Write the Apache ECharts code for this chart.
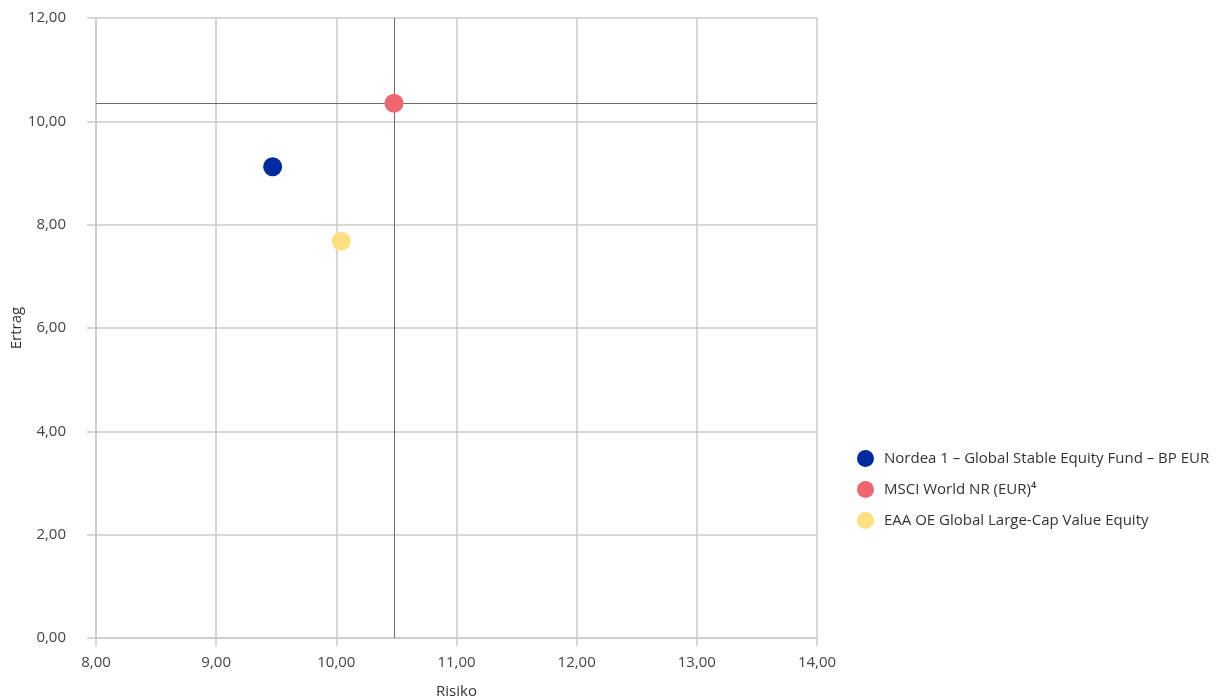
<!DOCTYPE html>
<html>
<head>
<meta charset="utf-8">
<script src="https://cdn.jsdelivr.net/npm/echarts@6/dist/echarts.min.js"></script>
<style>html,body{margin:0;padding:0;background:#fff}#c{width:1221px;height:699px}</style>
</head>
<body>
<div id="c"></div>
<script>
const seriesNames = ["Nordea 1 – Global Stable Equity Fund – BP EUR", "MSCI World NR (EUR)⁴", "EAA OE Global Large-Cap Value Equity"];
const risiko = [9.47, 10.48, 10.04];
const ertrag = [9.12, 10.35, 7.68];
const colors = ["#002aa0", "#ef6670", "#ffdf80"];
const xTicks = {min: 8, max: 14, interval: 1};
const yTicks = {min: 0, max: 12, interval: 2};

const fmt = v => v.toFixed(2).replace('.', ',');
const font = "'Open Sans', sans-serif";
const gridCol = '#cacaca';

const series = seriesNames.map((n, i) => {
  const s = {
    name: n, type: 'scatter', symbolSize: 19, z: 3,
    itemStyle: {color: colors[i], opacity: 1},
    data: [[risiko[i], ertrag[i]]]
  };
  if (i === 1) {
    s.markLine = {
      silent: true, symbol: 'none', z: 2,
      label: {show: false},
      lineStyle: {color: '#6e6e6e', width: 1, type: 'solid'},
      emphasis: {disabled: true},
      data: [{xAxis: risiko[i]}, {yAxis: ertrag[i]}]
    };
  }
  return s;
});

const chart = echarts.init(document.getElementById('c'));
chart.setOption({
  animation: false,
  grid: {left: 96, right: 404, top: 18, bottom: 61, containLabel: false, outerBoundsMode: 'none'},
  xAxis: {
    type: 'value', min: xTicks.min, max: xTicks.max, interval: xTicks.interval,
    name: 'Risiko', nameLocation: 'middle', nameGap: 46, nameMoveOverlap: false,
    nameTextStyle: {fontFamily: font, fontSize: 15, color: '#333'},
    axisLine: {show: true, lineStyle: {color: gridCol, width: 1.5}},
    axisTick: {show: true, length: 8, lineStyle: {color: gridCol, width: 1.5}},
    axisLabel: {formatter: fmt, fontFamily: font, fontSize: 15, color: '#444', margin: 17},
    splitLine: {show: true, lineStyle: {color: gridCol, width: 1.5}}
  },
  yAxis: {
    type: 'value', min: yTicks.min, max: yTicks.max, interval: yTicks.interval,
    name: 'Ertrag', nameLocation: 'middle', nameGap: 72, nameRotate: 90, nameMoveOverlap: false,
    nameTextStyle: {fontFamily: font, fontSize: 15, color: '#333'},
    axisLine: {show: true, lineStyle: {color: gridCol, width: 1.5}},
    axisTick: {show: true, length: 9, lineStyle: {color: gridCol, width: 1.5}},
    axisLabel: {formatter: fmt, fontFamily: font, fontSize: 15, color: '#444', margin: 30},
    splitLine: {show: true, lineStyle: {color: gridCol, width: 1.5}}
  },
  legend: {
    orient: 'vertical', left: 852, top: 445,
    icon: 'circle', itemWidth: 17, itemHeight: 17, itemGap: 14,
    textStyle: {fontFamily: font, fontSize: 15, color: '#333', padding: [0, 0, 0, 5]},
    data: seriesNames
  },
  series: series
});
</script>
</body>
</html>
